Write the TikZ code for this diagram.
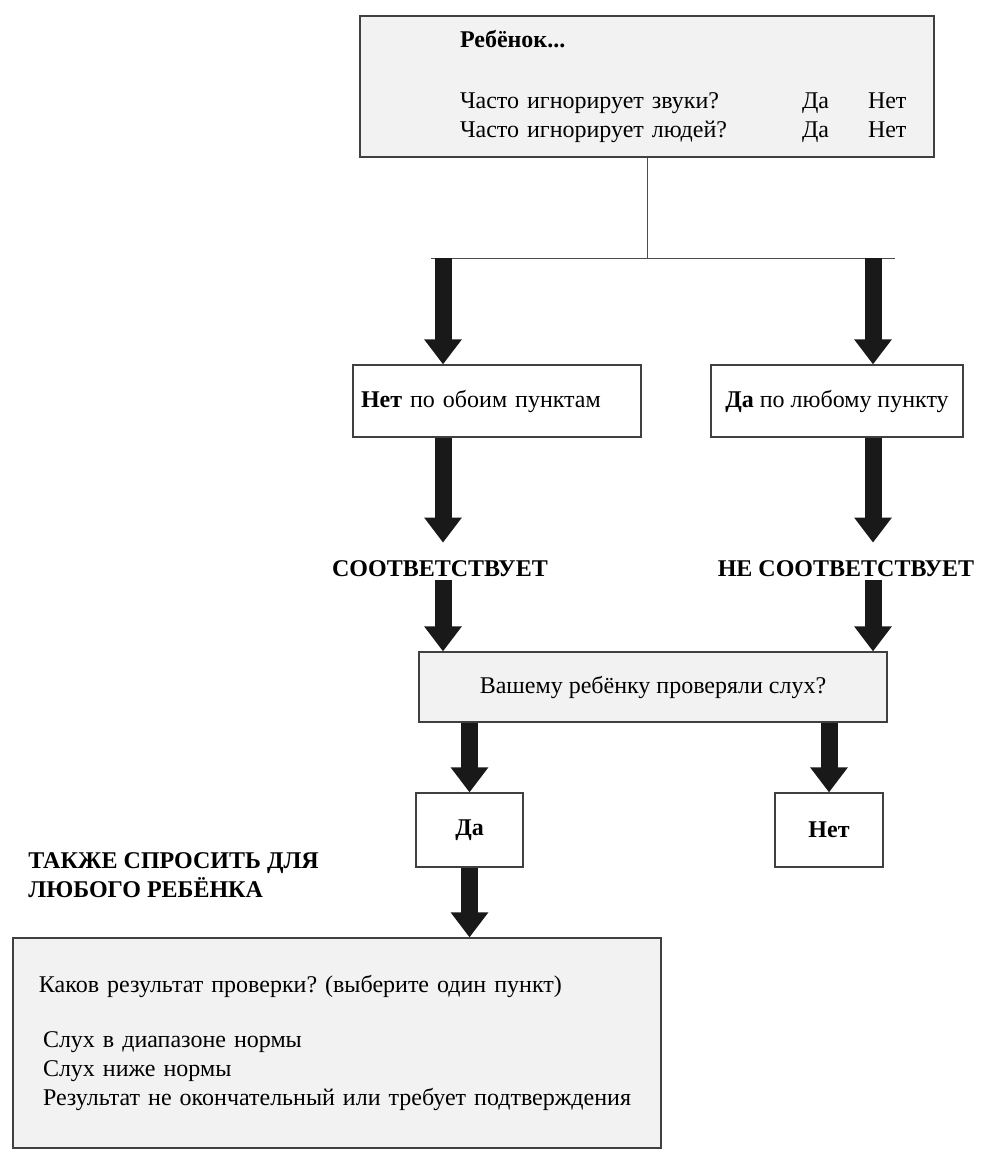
\documentclass[tikz,border=0pt,12pt]{standalone}
\usepackage{fontspec}
\setmainfont{Liberation Serif}
\usetikzlibrary{positioning,arrows.meta}
\frenchspacing

\tikzset{
    box/.style={draw=black!75, line width=0.6pt, inner sep=0pt},
    graybox/.style={box, fill=black!5},
    verdict/.style={font=\bfseries, inner sep=0pt, text height=16.5pt, text depth=2pt, anchor=base},
    fatarrow/.style={draw=black!90, line width=8.5pt, -{Triangle[width=18pt,length=12.5pt]}},
    stem/.style={draw=black!70, line width=0.5pt}
}

\begin{document}
\begin{tikzpicture}[x=0.5pt, y=-0.5pt]
                    \useasboundingbox (0,0) rectangle (983,1150);

                    \coordinate (colL) at (443,0);     % левая колонка стрелок
                    \coordinate (colR) at (873,0);     % правая колонка стрелок
                    \coordinate (splitL) at (431,258); % развилка слева
                    \coordinate (splitR) at (895,258); % развилка справа

                    \node[graybox, minimum width=287pt, minimum height=70.5pt, text width=287pt, align=left] (child) at (647,86.5) {\hspace*{50pt}\begin{tabular}{@{}p{171pt}@{}p{33pt}@{}l@{}}
                        \textbf{Ребёнок...} & & \\[16pt]
                        Часто игнорирует звуки? & Да & Нет \\
                        Часто игнорирует людей? & Да & Нет
                    \end{tabular}};

                    \node[box, minimum width=144pt, minimum height=36pt, text width=144pt, align=left] (no) at (497,401) {\hspace*{4pt}\textbf{Нет} по обоим пунктам};
                    \node[box, minimum width=126pt, minimum height=36pt] (yes) at (837,401) {\textbf{Да} по любому пункту};

                    \node[verdict] (match) at (440,576) {СООТВЕТСТВУЕТ};
                    \node[verdict] (nomatch) at (846,576) {НЕ СООТВЕТСТВУЕТ};

                    \node[graybox, minimum width=234pt, minimum height=35pt] (ask) at (653,687) {Вашему ребёнку проверяли слух?};

                    \node[box, minimum width=53.5pt, minimum height=37pt, font=\bfseries] (da) at (469.5,830) {Да};
                    \node[box, minimum width=54pt, minimum height=37pt, font=\bfseries] (net) at (829,830) {Нет};

                    \node[font=\bfseries, align=left, anchor=west, inner sep=0pt] (also) at (28,875) {ТАКЖЕ СПРОСИТЬ ДЛЯ\\ЛЮБОГО РЕБЁНКА};

                    \node[graybox, minimum width=324pt, minimum height=105pt, text width=324pt, align=left] (result) at (337,1043) {\hspace*{13pt}Каков результат проверки? (выберите один пункт)\\[13pt]
                        \hspace*{15pt}Слух в диапазоне нормы\\
                        \hspace*{15pt}Слух ниже нормы\\
                        \hspace*{15pt}Результат не окончательный или требует подтверждения};

                    \draw[stem] (child.south) -- (child.south |- splitL);
                    \draw[stem] (splitL) -- (splitR);

                    \draw[fatarrow] (colL |- splitL) -- (colL |- no.north);
                    \draw[fatarrow] (colR |- splitR) -- (colR |- yes.north);
                    \draw[fatarrow] (colL |- no.south) -- (colL |- match.north);
                    \draw[fatarrow] (colR |- yes.south) -- (colR |- nomatch.north);
                    \draw[fatarrow] (colL |- match.south) -- (colL |- ask.north);
                    \draw[fatarrow] (colR |- nomatch.south) -- (colR |- ask.north);
                    \draw[fatarrow] (da |- ask.south) -- (da.north);
                    \draw[fatarrow] (net |- ask.south) -- (net.north);
                    \draw[fatarrow] (da.south) -- (da |- result.north);
                \end{tikzpicture}
\end{document}
